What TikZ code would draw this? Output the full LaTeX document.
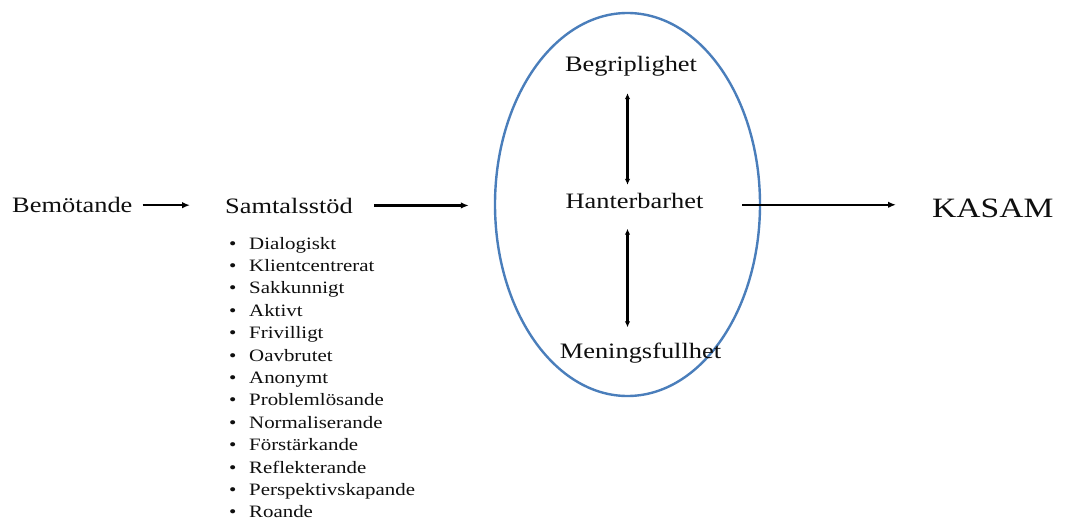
\documentclass[tikz,border=0pt]{standalone}
\usepackage{fontspec}
\setmainfont{Liberation Serif}
\usepackage{graphicx}
\usetikzlibrary{shapes.geometric,arrows.meta}
\definecolor{ellblue}{RGB}{74,126,187}
\definecolor{ink}{RGB}{15,15,15}
\newcommand\hs[1]{\scalebox{1.2}[1]{#1}}
\begin{document}
\begin{tikzpicture}[x=1pt,y=-1pt,
  lbl/.style={inner sep=0pt, anchor=base west, font=\fontsize{22}{26}\selectfont, text=ink},
  item/.style={inner sep=0pt, anchor=base west, font=\fontsize{17.4}{22}\selectfont, text=ink},
  arr/.style={-{Latex[length=8pt,width=6.5pt]}, line width=2.2pt},
  darr/.style={{Latex[length=6pt,width=5.5pt]}-{Latex[length=6pt,width=5.5pt]}, line width=2.2pt}]
\useasboundingbox[fill=white] (0,0) rectangle (1065,524);

\node[lbl] (bem) at (12,212.7) {\hs{Bemötande}};
\node[lbl] (sam) at (225,213) {\hs{Samtalsstöd}};
\node[ellipse, draw=ellblue, line width=2.4pt, minimum width=265pt, minimum height=383pt, inner sep=0pt] (ell) at (627.5,204.5) {};
\node[lbl, anchor=base] (beg) at (631,71.7) {\hs{Begriplighet}};
\node[lbl, anchor=base] (han) at (634.5,208.3) {\hs{Hanterbarhet}};
\node[lbl, anchor=base] (men) at (640.5,358) {\hs{Meningsfullhet}};
\node[inner sep=0pt, anchor=base west, font=\fontsize{28}{32}\selectfont, text=ink] (kas) at (932,217.3) {\hs{KASAM}};

\foreach \w [count=\i] in {Dialogiskt, Klientcentrerat, Sakkunnigt, Aktivt, Frivilligt, Oavbrutet, Anonymt, Problemlösande, Normaliserande, Förstärkande, Reflekterande, Perspektivskapande, Roande}
  \node[item] (li\i) at (229,{249+22.4*(\i-1)}) {\hs{\makebox[16.7pt][l]{•}\w}};

\draw[arr, shorten <=10pt, shorten >=35pt] (bem.east) -- (bem.east -| sam.west);
\draw[arr, shorten <=21pt, shorten >=25pt] (sam.east) -- (sam.east -| ell.west);
\draw[arr, shorten <=38.7pt, shorten >=36pt] ([yshift=-4pt]han.east) -- ([yshift=-4pt]han.east -| kas.west);
\draw[darr, shorten <=16.5pt, shorten >=8pt] (beg.south -| ell.center) -- (han.north -| ell.center);
\draw[darr, shorten <=20pt, shorten >=15pt] (han.south -| ell.center) -- (men.north -| ell.center);
\end{tikzpicture}
\end{document}
